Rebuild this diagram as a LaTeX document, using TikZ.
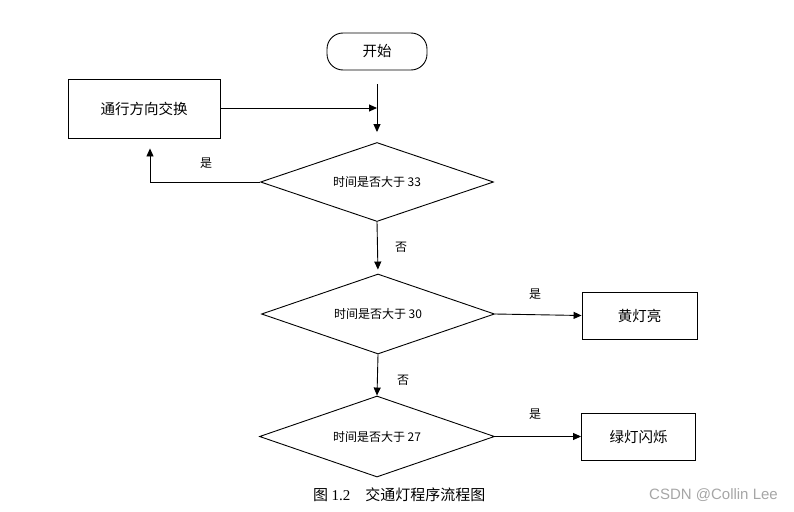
\documentclass[tikz,border=0pt]{standalone}
\usepackage{fontspec}
\setmainfont{Noto Sans CJK SC}
\newfontfamily\serifl{Liberation Serif}
\newfontfamily\wmfont{Liberation Sans}
\usetikzlibrary{shapes.geometric,arrows.meta}
\begin{document}
\begin{tikzpicture}[x=1pt,y=-1pt,
  line/.style={draw=black,line width=0.9pt},
  arr/.style={line,-{Triangle[length=8pt,width=7pt]}},
  box/.style={draw=black,line width=0.9pt,inner sep=0pt,font=\fontsize{14.5}{16}\selectfont},
  dia/.style={draw=black,diamond,aspect=3,inner sep=0pt,line width=0.9pt,font=\fontsize{12}{14}\selectfont},
  lab/.style={font=\fontsize{12}{14}\selectfont,inner sep=0pt}]
\useasboundingbox (0,0) rectangle (794,511);
% nodes
\node[box,rounded corners=16pt,minimum width=100pt,minimum height=37pt] (start) at (377,51.5) {开始};
\node[box,minimum width=152pt,minimum height=59pt] (swap) at (144,108.5) {通行方向交换};
\node[dia,minimum width=233pt,minimum height=79pt] (d1) at (377,182) {时间是否大于 33};
\node[dia,minimum width=233pt,minimum height=80pt] (d2) at (378,314) {时间是否大于 30};
\node[dia,minimum width=235pt,minimum height=81pt] (d3) at (377,436.5) {时间是否大于 27};
\node[box,minimum width=115pt,minimum height=47pt] (yellow) at (639.5,315.5) {黄灯亮};
\node[box,minimum width=114pt,minimum height=47pt] (green) at (638.5,436.5) {绿灯闪烁};
\coordinate (join) at (377,108);
% connectors
\draw[arr,shorten <=14pt,shorten >=10pt] (start.south) -- (d1.north);
\draw[arr] (swap.east |- join) -- (join);
\draw[arr,shorten >=10pt] (d1.west) -| ([xshift=6pt]swap.south);
\draw[arr,shorten >=4pt] (d1.south) -- (d2.north);
\draw[arr] (d2.east) -- (yellow.west);
\draw[arr] (d2.south) -- (d3.north);
\draw[arr] (d3.east) -- (green.west);
% labels
\node[lab] (l1) at (206,163) {是};
\node[lab] (l2) at (401,247) {否};
\node[lab] (l3) at (535,294) {是};
\node[lab] (l4) at (403,380) {否};
\node[lab] (l5) at (535,414) {是};
% caption
\node[anchor=west,inner sep=0pt,font=\fontsize{15}{17}\selectfont] (cap) at (313,495) {图 {\serifl 1.2}\hspace{15pt}交通灯程序流程图};
\node[anchor=west,inner sep=0pt,text=black!35,font=\wmfont\fontsize{15}{17}\selectfont] (wm) at (649,495) {CSDN @Collin Lee};
\end{tikzpicture}
\end{document}
